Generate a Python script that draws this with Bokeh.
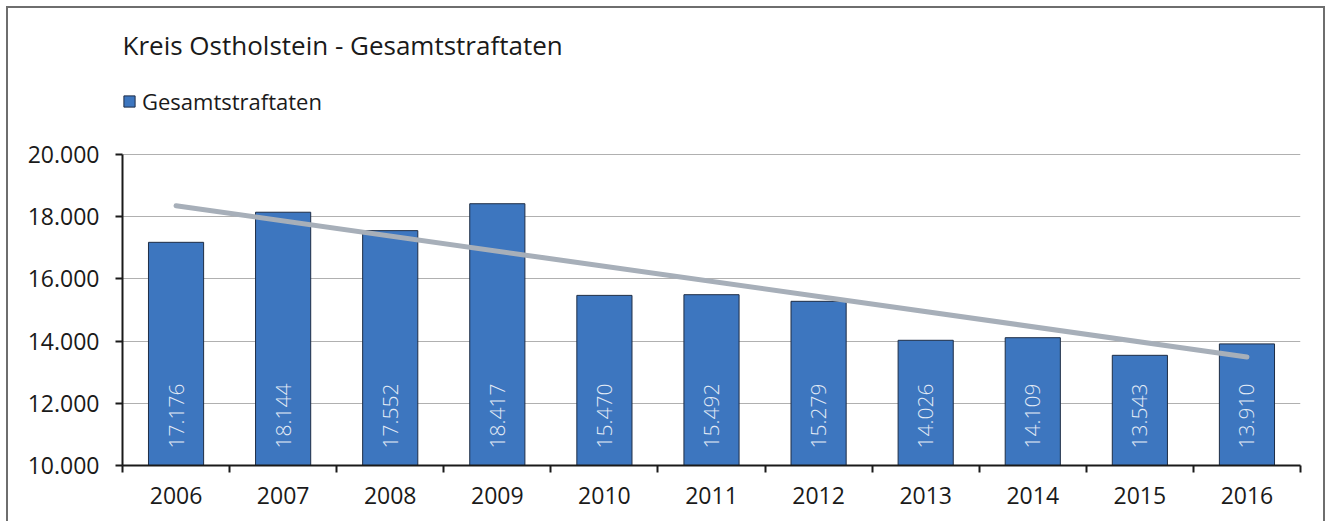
import math
from bokeh.plotting import figure
from bokeh.models import Range1d, FixedTicker, Label, Legend, LegendItem, ColumnDataSource
from bokeh.core.properties import value
from bokeh.embed import file_html
from bokeh.resources import INLINE

# ---- data ----
title_text = "Kreis Ostholstein - Gesamtstraftaten"
series_name = "Gesamtstraftaten"
years = ["2006", "2007", "2008", "2009", "2010", "2011", "2012", "2013", "2014", "2015", "2016"]
values = [17176, 18144, 17552, 18417, 15470, 15492, 15279, 14026, 14109, 13543, 13910]
value_labels = ["17.176", "18.144", "17.552", "18.417", "15.470", "15.492", "15.279", "14.026", "14.109", "13.543", "13.910"]
trend_values = [18350, 13490]   # linear trend at 2006 and 2016
y_ticks = [10000, 12000, 14000, 16000, 18000, 20000]
y_tick_labels = ["10.000", "12.000", "14.000", "16.000", "18.000", "20.000"]

# ---- styling / layout ----
FONT = "Open Sans"
BAR_COLOR = "#3d76bf"
y_min, y_max = 10000, 20000
PX_PER_UNIT = 311 / (y_max - y_min)       # plot area is 311 px tall for the axis span
view_top = y_max + 146 / PX_PER_UNIT      # frame extends up to hold title + legend
label_base = y_min + 17 / PX_PER_UNIT     # where the in-bar labels start
title_base = y_max + 110 / PX_PER_UNIT    # title baseline

xs = [i + 0.5 for i in range(len(years))]
src = ColumnDataSource(dict(x=xs, top=values, label=value_labels))

p = figure(width=1319, height=515,
           x_range=Range1d(0, len(years)), y_range=Range1d(y_min, view_top),
           output_backend="svg", toolbar_location=None,
           min_border_left=114, min_border_right=27,
           min_border_top=0, min_border_bottom=58,
           styles={"border-left": "2px solid #6e6e6e",
                   "border-top": "2px solid #6e6e6e",
                   "border-right": "2px solid #6e6e6e",
                   "margin-left": "6px", "margin-top": "6px"})
p.outline_line_color = None
p.background_fill_color = "white"
p.border_fill_color = "white"

# grid
p.xgrid.visible = False
p.ygrid.ticker = FixedTicker(ticks=y_ticks)
p.ygrid.grid_line_color = "#b0b0b0"
p.ygrid.grid_line_width = 1

# y axis
ya = p.yaxis[0]
ya.ticker = FixedTicker(ticks=y_ticks)
ya.bounds = (y_min, y_max)
ya.major_label_overrides = dict(zip(y_ticks, y_tick_labels))
ya.axis_line_width = 2
ya.axis_line_color = "#1a1a1a"
ya.major_tick_out = 7
ya.major_tick_in = 0
ya.major_tick_line_width = 2
ya.major_tick_line_color = "#1a1a1a"
ya.minor_tick_line_color = None
ya.major_label_standoff = 16
ya.major_label_text_font = FONT
ya.major_label_text_font_size = "23px"
ya.major_label_text_color = "#1a1a1a"

# x axis
xa = p.xaxis[0]
xa.ticker = FixedTicker(ticks=xs, minor_ticks=list(range(len(years) + 1)))
xa.major_label_overrides = dict(zip(xs, years))
xa.axis_line_width = 2
xa.axis_line_color = "#1a1a1a"
xa.major_tick_out = 0
xa.major_tick_in = 0
xa.major_tick_line_color = None
xa.minor_tick_out = 7
xa.minor_tick_in = 0
xa.minor_tick_line_width = 2
xa.minor_tick_line_color = "#1a1a1a"
xa.major_label_standoff = 14
xa.major_label_text_font = FONT
xa.major_label_text_font_size = "23px"
xa.major_label_text_color = "#1a1a1a"

# bars
bars = p.vbar(x="x", top="top", bottom=y_min, width=0.515, source=src,
              fill_color=BAR_COLOR, line_color="#1e2d45", line_width=1)

# in-bar rotated labels
p.text(x="x", y=label_base, text="label", source=src, angle=math.pi / 2,
       text_align="left", text_baseline="middle", text_color="#e3ebf6",
       text_font=value("Open Sans Light, Open Sans"), text_font_size="21px")

# trend line
p.line(x=[xs[0], xs[-1]], y=trend_values, line_color="#a7afb9", line_width=5,
       line_cap="round")

# legend
legend = Legend(items=[LegendItem(label=series_name, renderers=[bars])],
                location=(0, 349), glyph_width=14, glyph_height=14,
                label_standoff=6, padding=0, margin=0, spacing=0,
                border_line_color=None, background_fill_alpha=0,
                label_text_font=FONT, label_text_font_size="22px",
                label_text_color="#1a1a1a")
p.add_layout(legend)

# title
p.add_layout(Label(x=0, y=title_base, text=title_text, text_font=FONT,
                   text_font_size="26px", text_baseline="alphabetic",
                   text_color="#1a1a1a"))

open("out.html", "w").write(file_html(p, INLINE))
